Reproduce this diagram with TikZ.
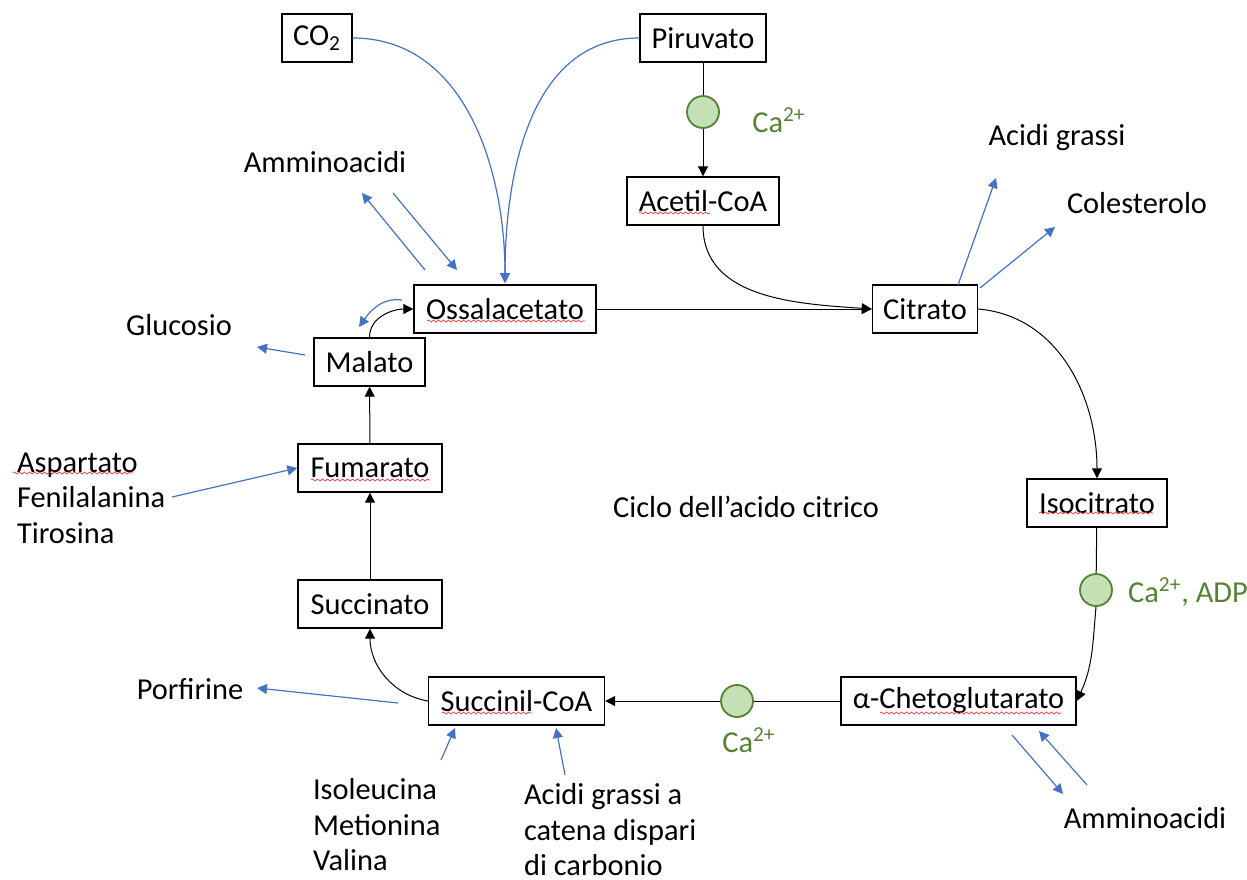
\documentclass[tikz,border=0pt]{standalone}
\usepackage{fontspec}
\setmainfont{Carlito}
\usetikzlibrary{arrows.meta,decorations.pathmorphing}

\definecolor{myblue}{RGB}{68, 114, 196}
\definecolor{mygreen}{RGB}{84, 130, 53}
\definecolor{mylightgreen}{RGB}{197, 224, 180}
\definecolor{myred}{RGB}{230, 60, 60}

\begin{document}
\begin{tikzpicture}[x=0.5pt, y=0.5pt,
    every node/.style={font=\fontsize{15.2}{17.75}\selectfont},
    box/.style={draw, line width=0.7pt, minimum height=24pt, inner sep=0pt},
    ca/.style={circle, draw=mygreen, line width=0.9pt, fill=mylightgreen, minimum size=16pt, inner sep=0pt},
    flow/.style={line width=0.5pt},
    tip/.style={-{Triangle[length=5pt, width=5pt]}},
    side/.style={myblue, line width=0.6pt, -{Triangle[length=5pt, width=5pt]}},
    squig/.style={myred, line width=0.35pt, decorate, decoration={snake, segment length=2.5pt, amplitude=0.5pt}}]
            \useasboundingbox (0,0) rectangle (1247,-879);

            % boxes of the cycle
            \node[box, minimum width=35pt] (co2) at (317,-38) {CO\textsubscript{2}};
            \node[box, minimum width=63pt] (piruvato) at (703,-38) {Piruvato};
            \node[box, minimum width=76pt] (acetil) at (703,-201) {Acetil-CoA};
            \node[box, minimum width=52.5pt] (citrato) at (925,-309) {Citrato};
            \node[box, minimum width=91pt] (ossal) at (505,-309) {Ossalacetato};
            \node[box, minimum width=55.5pt] (malato) at (369.5,-362) {Malato};
            \node[box, minimum width=72pt] (fumarato) at (370,-468) {Fumarato};
            \node[box, minimum width=72pt] (succinato) at (370,-604) {Succinato};
            \node[box, minimum width=88pt] (succinil) at (516.5,-701) {Succinil-CoA};
            \node[box, minimum width=117.5pt] (cheto) at (958.5,-701) {α-Chetoglutarato};
            \node[box, minimum width=70pt] (isocitrato) at (1097,-503) {Isocitrato};

            \node[ca] (ca1) at (703,-112) {};
            \node[ca] (ca2) at (1096,-590) {};
            \node[ca] (ca3) at (737,-701) {};
            \node[text=mygreen] (ca1label) at (779,-120) {Ca\textsuperscript{2+}};
            \node[text=mygreen] (ca2label) at (1188,-592) {Ca\textsuperscript{2+}, ADP};
            \node[text=mygreen] (ca3label) at (749,-740) {Ca\textsuperscript{2+}};

            % other labels
            \node (amino1) at (325,-162) {Amminoacidi};
            \node (glucosio) at (179,-325) {Glucosio};
            \node[align=left, anchor=west] (aspartato) at (10,-498) {Aspartato\\Fenilalanina\\Tirosina};
            \node (ciclo) at (746,-507) {Ciclo dell’acido citrico};
            \node (porfirine) at (190,-689) {Porfirine};
            \node[align=left, anchor=west] (isoleucina) at (306,-825) {Isoleucina\\Metionina\\Valina};
            \node[align=left, anchor=west, inner ysep=1pt] (acidi1) at (517,-830) {Acidi grassi a\\catena dispari\\di carbonio};
            \node (amino2) at (1145,-818) {Amminoacidi};
            \node (acidi2) at (1057,-138) {Acidi grassi};
            \node (colesterolo) at (1137,-203) {Colesterolo};

            % main cycle
            \draw[flow] (piruvato) -- (ca1);
            \draw[flow, tip] (ca1) -- (acetil);
            \draw[flow, tip] (acetil.south) to[out=-90, in=176] (citrato.west);
            \draw[flow, tip] (ossal) -- (citrato);
            \draw[flow, tip] (citrato.east) to[out=-5, in=90] (isocitrato.north);
            \draw[flow] (isocitrato) -- (ca2);
            \draw[flow, tip] (ca2.south) to[out=-95, in=65] (cheto.east);
            \draw[flow] (cheto) -- (ca3);
            \draw[flow, tip] (ca3) -- (succinil);
            \draw[flow, tip] (succinil.west) to[out=170, in=-90] (succinato.south);
            \draw[flow, tip] (succinato) -- (fumarato);
            \draw[flow, tip] (fumarato) -- (malato);
            \draw[flow, tip] (malato.north) to[out=90, in=180] (ossal.west);

            % side reactions
            \coordinate (ossaltop) at (505,-283);
            \draw[side] (co2.east) to[out=0, in=90] (ossaltop);
            \draw[side] (piruvato.west) to[out=180, in=90] (ossaltop);
            \coordinate (back1) at (402,-300);
            \coordinate (back2) at (359,-327);
            \draw[side] (back1) to[out=172, in=55] (back2);

            \coordinate (am1) at (425,-270);
            \coordinate (am2) at (362,-193);
            \coordinate (am3) at (393,-193);
            \coordinate (am4) at (457,-270);
            \draw[side] (am1) -- (am2);
            \draw[side] (am3) -- (am4);

            \coordinate (gl1) at (305,-355);
            \coordinate (gl2) at (257,-347);
            \draw[side] (gl1) -- (gl2);

            \coordinate (fe1) at (172,-497);
            \draw[side] (fe1) -- (fumarato.west);

            \coordinate (po1) at (398,-703);
            \coordinate (po2) at (257,-688);
            \draw[side] (po1) -- (po2);

            \coordinate (is1) at (441,-760);
            \coordinate (is2) at (455,-728);
            \draw[side] (is1) -- (is2);
            \coordinate (ac1) at (565,-775);
            \coordinate (ac2) at (556,-728);
            \draw[side] (ac1) -- (ac2);

            \coordinate (ch1) at (1012,-735);
            \coordinate (ch2) at (1063,-794);
            \coordinate (ch3) at (1087,-785);
            \coordinate (ch4) at (1039,-731);
            \draw[side] (ch1) -- (ch2);
            \draw[side] (ch3) -- (ch4);

            \coordinate (ci1) at (958,-285);
            \coordinate (ci2) at (996,-178);
            \coordinate (ci3) at (980,-288);
            \coordinate (ci4) at (1055,-227);
            \draw[side] (ci1) -- (ci2);
            \draw[side] (ci3) -- (ci4);

            % spell check marks
            \draw[squig] (639,-213) -- (710,-213);
            \draw[squig] (427,-321) -- (585,-321);
            \draw[squig] (311,-480) -- (430,-480);
            \draw[squig] (1039,-513) -- (1153,-513);
            \draw[squig] (880,-713) -- (1061,-713);
            \draw[squig] (442,-713) -- (532,-713);
            \draw[squig] (13,-473) -- (133,-473);
        \end{tikzpicture}
\end{document}
